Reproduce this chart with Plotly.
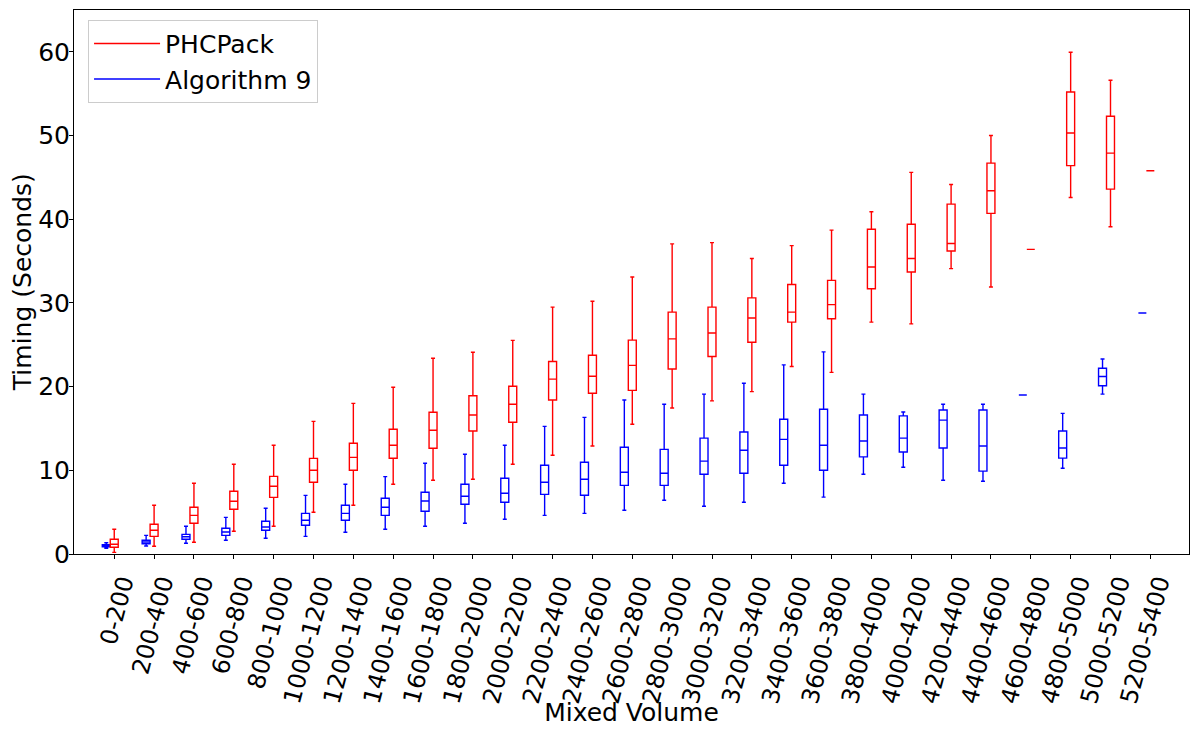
import plotly.graph_objects as go

categories = ["0-200", "200-400", "400-600", "600-800", "800-1000", "1000-1200",
              "1200-1400", "1400-1600", "1600-1800", "1800-2000", "2000-2200",
              "2200-2400", "2400-2600", "2600-2800", "2800-3000", "3000-3200",
              "3200-3400", "3400-3600", "3600-3800", "3800-4000", "4000-4200",
              "4200-4400", "4400-4600", "4600-4800", "4800-5000", "5000-5200",
              "5200-5400"]

# Algorithm 9 (blue) statistics
alg_low = [0.68, 0.96, 1.28, 1.64, 1.88, 2.11, 2.59, 2.95, 3.31, 3.67, 4.15, 4.62, 4.86,
           5.22, 6.42, 5.7, 6.19, 8.45, 6.79, 9.53, 10.36, 8.81, 8.69, 19.0, 10.24, 19.1, 28.8]
alg_q1 = [0.87, 1.23, 1.76, 2.23, 2.83, 3.43, 4.03, 4.62, 5.10, 5.94, 6.19, 7.13, 7.02,
          8.2, 8.2, 9.53, 9.64, 10.6, 10.0, 11.6, 12.18, 12.66, 9.9, 19.0, 11.46, 20.1, 28.8]
alg_med = [0.99, 1.43, 2.07, 2.63, 3.23, 4.03, 4.86, 5.58, 6.33, 6.90, 7.26, 8.57, 8.93,
           9.76, 9.64, 11.1, 12.4, 13.7, 13.0, 13.5, 13.85, 16.0, 12.9, 19.0, 12.66, 21.2, 28.8]
alg_q3 = [1.11, 1.64, 2.35, 3.07, 3.91, 4.86, 5.82, 6.66, 7.37, 8.33, 9.05, 10.6, 10.96,
          12.75, 12.5, 13.85, 14.57, 16.1, 17.3, 16.6, 16.5, 17.2, 17.2, 19.0, 14.7, 22.2, 28.8]
alg_high = [1.35, 2.23, 3.31, 4.38, 5.46, 7.01, 8.33, 9.24, 10.84, 11.92, 13.0, 15.25, 16.33,
            18.4, 17.9, 19.1, 20.4, 22.6, 24.15, 19.1, 16.97, 17.9, 17.9, 19.0, 16.8, 23.3, 28.8]

# PHCPack (red) statistics
phc_low = [0.2, 0.92, 1.40, 2.71, 3.31, 4.98, 5.82, 8.33, 8.81, 8.93, 10.72, 11.8, 12.9,
           15.5, 17.45, 18.3, 19.4, 22.4, 21.7, 27.7, 27.5, 34.1, 31.9, 36.4, 42.6, 39.1, 45.8]
phc_q1 = [0.80, 2.11, 3.67, 5.34, 6.77, 8.57, 10.0, 11.44, 12.63, 14.7, 15.75, 18.4, 19.2,
          19.55, 22.1, 23.6, 25.3, 27.7, 28.1, 31.7, 33.7, 36.2, 40.7, 36.4, 46.4, 43.6, 45.8]
phc_med = [1.16, 2.83, 4.62, 6.30, 8.09, 10.0, 11.55, 13.0, 14.78, 16.6, 17.9, 20.9, 21.24,
           22.54, 25.7, 26.4, 28.2, 28.9, 29.8, 34.3, 35.3, 37.1, 43.4, 36.4, 50.3, 47.9, 45.8]
phc_q3 = [1.76, 3.55, 5.58, 7.49, 9.28, 11.43, 13.23, 14.9, 16.94, 18.9, 20.04, 23.0, 23.75,
          25.55, 28.9, 29.5, 30.6, 32.2, 32.7, 38.8, 39.4, 41.8, 46.7, 36.4, 55.2, 52.3, 45.8]
phc_high = [2.95, 5.82, 8.45, 10.72, 12.99, 15.85, 18.0, 19.92, 23.39, 24.1, 25.52, 29.5, 30.2,
            33.1, 37.05, 37.2, 35.3, 36.85, 38.7, 40.9, 45.6, 44.15, 50.0, 36.4, 59.96, 56.6, 45.8]

idx = list(range(len(categories)))
blue_pos = [i - 0.2 for i in idx]
red_pos = [i for i in idx]

fig = go.Figure()

fig.add_trace(go.Box(
    x=blue_pos, q1=alg_q1, median=alg_med, q3=alg_q3,
    lowerfence=alg_low, upperfence=alg_high,
    width=0.2, whiskerwidth=0.5,
    line=dict(color="#0000ff", width=1.4), fillcolor="rgba(0,0,0,0)",
    showlegend=False, name="Algorithm 9", boxpoints=False,
))
fig.add_trace(go.Box(
    x=red_pos, q1=phc_q1, median=phc_med, q3=phc_q3,
    lowerfence=phc_low, upperfence=phc_high,
    width=0.2, whiskerwidth=0.5,
    line=dict(color="#ff0000", width=1.4), fillcolor="rgba(0,0,0,0)",
    showlegend=False, name="PHCPack", boxpoints=False,
))

# legend entries drawn as lines (like matplotlib proxies)
fig.add_trace(go.Scatter(x=[None], y=[None], mode="lines", name="PHCPack",
                         line=dict(color="#ff0000", width=1.5)))
fig.add_trace(go.Scatter(x=[None], y=[None], mode="lines", name="Algorithm 9",
                         line=dict(color="#0000ff", width=1.5)))

font_family = "DejaVu Sans"
fs = 25

# page body has an 8px margin, so the figure is sized/margined to compensate
fig.update_layout(
    width=1184, height=719,
    margin=dict(l=66, r=3, t=2, b=173),
    plot_bgcolor="white", paper_bgcolor="white",
    font=dict(family=font_family, size=fs, color="black"),
    showlegend=True,
    legend=dict(
        x=0.0126, y=0.982, xanchor="left", yanchor="top",
        bgcolor="rgba(255,255,255,0.8)", bordercolor="#cccccc", borderwidth=1,
        font=dict(family=font_family, size=fs, color="black"),
        tracegroupgap=0, itemwidth=66,
    ),
    xaxis=dict(
        range=[-1.01, 26.97], automargin=False,
        tickmode="array", tickvals=idx, ticktext=categories,
        tickangle=-75, ticklabelshift=8,
        ticks="outside", ticklen=4, tickcolor="black",
        showline=True, linecolor="black", linewidth=1, mirror=True,
        showgrid=False, zeroline=False,
        tickfont=dict(family=font_family, size=24),
        title=dict(text="Mixed Volume", font=dict(family=font_family, size=fs), standoff=5),
    ),
    yaxis=dict(
        range=[0, 65], automargin=False,
        tickmode="array", tickvals=[0, 10, 20, 30, 40, 50, 60],
        ticks="outside", ticklen=4, tickcolor="black",
        ticklabelstandoff=-6,
        showline=True, linecolor="black", linewidth=1, mirror=True,
        showgrid=False, zeroline=False,
        tickfont=dict(family=font_family, size=fs),
    ),
    annotations=[dict(
        text="Timing (Seconds)", textangle=-90,
        xref="paper", yref="paper", x=-0.0465, y=0.5,
        xanchor="center", yanchor="middle", showarrow=False, borderpad=0,
        font=dict(family=font_family, size=fs, color="black"),
    )],
)

fig.write_html("out.html")
